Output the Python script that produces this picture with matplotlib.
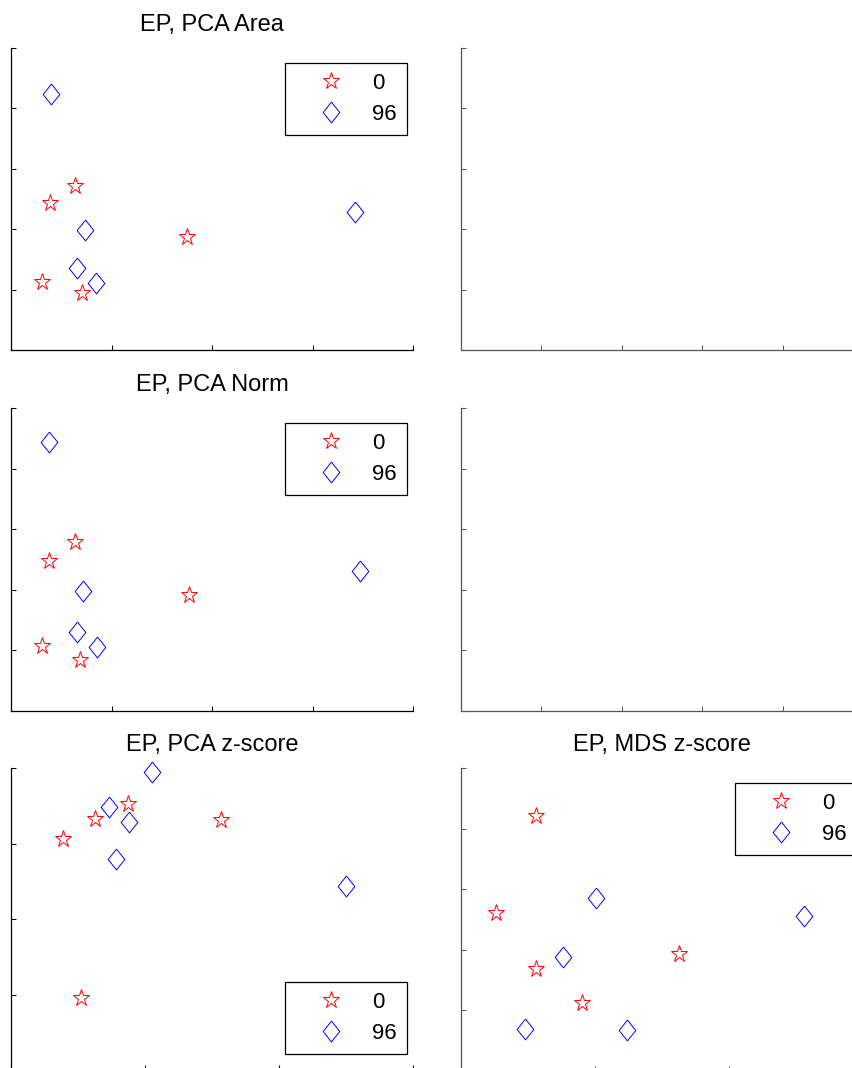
import matplotlib
matplotlib.use("Agg")
import matplotlib.pyplot as plt

plt.rcParams['font.family'] = ['Liberation Sans', 'DejaVu Sans']

labels = ['0', '96']

# EP, PCA Area
area_x0 = [0.39, 0.64, 1.75, 0.31, 0.71]
area_y0 = [2.43, 2.72, 1.87, 1.13, 0.94]
area_x96 = [0.40, 0.74, 0.66, 0.85, 3.42]
area_y96 = [4.24, 1.99, 1.36, 1.11, 2.28]

# EP, PCA Norm
norm_x0 = [0.64, 0.38, 1.77, 0.31, 0.69]
norm_y0 = [2.79, 2.48, 1.91, 1.07, 0.84]
norm_x96 = [0.38, 0.72, 3.47, 0.66, 0.86]
norm_y96 = [4.44, 1.98, 2.31, 1.31, 1.06]

# EP, PCA z-score
pz_x0 = [0.87, 0.63, 1.57, 0.39, 0.52]
pz_y0 = [3.52, 3.33, 3.31, 3.06, 0.96]
pz_x96 = [1.05, 0.73, 0.88, 0.78, 2.50]
pz_y96 = [3.95, 3.49, 3.29, 2.79, 2.44]

# EP, MDS z-score
mz_x0 = [0.56, 0.26, 0.56, 1.63, 0.90]
mz_y0 = [4.20, 2.60, 1.69, 1.93, 1.13]
mz_x96 = [1.01, 2.56, 0.76, 0.48, 1.24]
mz_y96 = [2.86, 2.55, 1.88, 0.70, 0.68]

W, H = 853, 1068
fig = plt.figure(figsize=(W / 100, H / 100), dpi=100)

diamond = [(0, 1), (0.8, 0), (0, -1), (-0.8, 0), (0, 1)]


def make_ax(left, top, width, height, xlim, ylim, xstep, ystep, color='black'):
    ax = fig.add_axes([left / W, 1 - (top + height) / H, width / W, height / H])
    ax.set_xlim(*xlim)
    ax.set_ylim(*ylim)
    nx = int(round((xlim[1] - xlim[0]) / xstep))
    ny = int(round((ylim[1] - ylim[0]) / ystep))
    ax.set_xticks([xlim[0] + i * xstep for i in range(nx + 1)])
    ax.set_yticks([ylim[0] + i * ystep for i in range(ny + 1)])
    ax.set_xticklabels([])
    ax.set_yticklabels([])
    ax.tick_params(direction='in', length=3.5, width=0.75, colors=color)
    ax.spines['top'].set_visible(False)
    ax.spines['right'].set_visible(False)
    for s in ['left', 'bottom']:
        ax.spines[s].set_color(color)
        ax.spines[s].set_linewidth(0.9)
    return ax


def scatter(ax, x0, y0, x96, y96, title, anchor, loc):
    ax.plot(x0, y0, linestyle='none', marker='*', markersize=12.5,
            markerfacecolor='none', markeredgecolor='red', markeredgewidth=0.7,
            label=labels[0], clip_on=False)
    ax.plot(x96, y96, linestyle='none', marker=diamond, markersize=15,
            markerfacecolor='none', markeredgecolor='blue', markeredgewidth=0.7,
            label=labels[1], clip_on=False)
    ax.set_title(title, fontsize=17, pad=12)
    leg = ax.legend(loc=loc, bbox_to_anchor=anchor, borderaxespad=0,
                    fontsize=16, numpoints=1, fancybox=False, framealpha=1,
                    edgecolor='black', handlelength=3.3, handletextpad=0.2,
                    borderpad=0.45, labelspacing=0.45)
    leg.get_frame().set_linewidth(0.9)


ax1 = make_ax(11, 48, 402, 302, (0, 4), (0, 5), 1, 1)
scatter(ax1, area_x0, area_y0, area_x96, area_y96, 'EP, PCA Area', (0.985, 0.95), 'upper right')

make_ax(461, 48, 402, 302, (0, 1), (0, 1), 0.2, 0.2, color='#555555')

ax3 = make_ax(11, 408, 402, 303, (0, 4), (0, 5), 1, 1)
scatter(ax3, norm_x0, norm_y0, norm_x96, norm_y96, 'EP, PCA Norm', (0.985, 0.95), 'upper right')

make_ax(461, 408, 402, 303, (0, 1), (0, 1), 0.2, 0.2, color='#555555')

ax5 = make_ax(11, 768, 402, 302, (0, 3), (0, 4), 1, 1)
scatter(ax5, pz_x0, pz_y0, pz_x96, pz_y96, 'EP, PCA z-score', (0.985, 0.053), 'lower right')

ax6 = make_ax(461, 768, 402, 303, (0, 3), (0, 5), 1, 1, color='#555555')
scatter(ax6, mz_x0, mz_y0, mz_x96, mz_y96, 'EP, MDS z-score', (0.985, 0.95), 'upper right')

fig.savefig('out.png', dpi=100)
